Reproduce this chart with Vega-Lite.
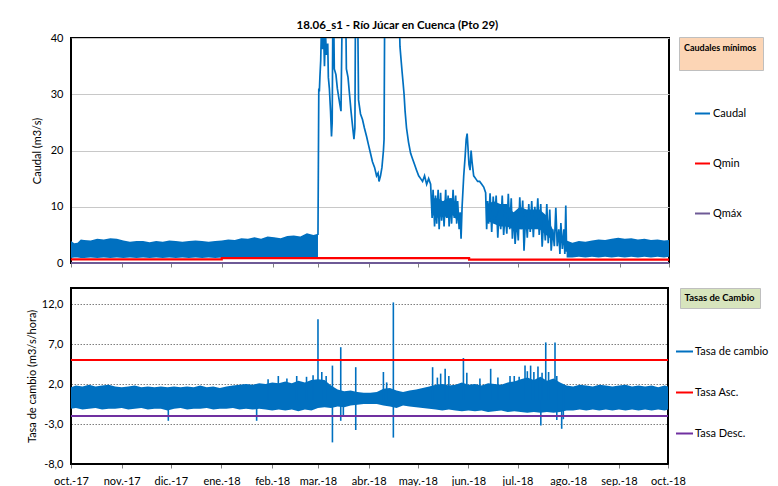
{
  "$schema": "https://vega.github.io/schema/vega-lite/v6.json",
  "background": "white",
  "padding": {"left": 25, "top": 18, "right": 0, "bottom": 0},
  "spacing": 17,
  "config": {
    "font": "Lato",
    "view": {"stroke": "#000000", "strokeWidth": 2},
    "axis": {
      "labelFont": "Lato", "titleFont": "Lato",
      "labelFontSize": 11, "titleFontSize": 11, "titleFontWeight": "normal",
      "labelColor": "#000000", "titleColor": "#000000",
      "domainColor": "#000000", "tickColor": "#808080",
      "labelFlush": false, "labelOverlap": false
    },
    "legend": {"labelFont": "Lato", "labelColor": "#000000"},
    "title": {"font": "Lato", "color": "#000000"}
  },
  "resolve": {
    "scale": {"color": "independent", "strokeDash": "independent", "x": "independent", "y": "independent"},
    "legend": {"color": "independent", "strokeDash": "independent"}
  },
  "datasets": {
    "caudal_banda": [
      {"tramo": "a", "fecha": "2017-10-01T00:00", "lo": 0.9, "hi": 3.9},
      {"tramo": "a", "fecha": "2017-10-03T00:00", "lo": 1.0, "hi": 3.5},
      {"tramo": "a", "fecha": "2017-10-05T00:00", "lo": 1.0, "hi": 3.6},
      {"tramo": "a", "fecha": "2017-10-07T00:00", "lo": 0.9, "hi": 4.2},
      {"tramo": "a", "fecha": "2017-10-09T00:00", "lo": 0.9, "hi": 4.1},
      {"tramo": "a", "fecha": "2017-10-13T00:00", "lo": 1.0, "hi": 4.0},
      {"tramo": "a", "fecha": "2017-10-17T00:00", "lo": 0.9, "hi": 4.3},
      {"tramo": "a", "fecha": "2017-10-21T00:00", "lo": 1.0, "hi": 4.2},
      {"tramo": "a", "fecha": "2017-10-25T00:00", "lo": 0.9, "hi": 4.4},
      {"tramo": "a", "fecha": "2017-10-29T00:00", "lo": 1.0, "hi": 4.3},
      {"tramo": "a", "fecha": "2017-11-02T00:00", "lo": 0.9, "hi": 4.0},
      {"tramo": "a", "fecha": "2017-11-06T00:00", "lo": 1.0, "hi": 3.8},
      {"tramo": "a", "fecha": "2017-11-10T00:00", "lo": 0.9, "hi": 3.9},
      {"tramo": "a", "fecha": "2017-11-14T00:00", "lo": 1.0, "hi": 3.9},
      {"tramo": "a", "fecha": "2017-11-18T00:00", "lo": 0.9, "hi": 3.7},
      {"tramo": "a", "fecha": "2017-11-22T00:00", "lo": 1.0, "hi": 3.9},
      {"tramo": "a", "fecha": "2017-11-26T00:00", "lo": 0.9, "hi": 3.8},
      {"tramo": "a", "fecha": "2017-11-30T00:00", "lo": 1.0, "hi": 4.0},
      {"tramo": "a", "fecha": "2017-12-04T00:00", "lo": 0.9, "hi": 3.9},
      {"tramo": "a", "fecha": "2017-12-08T00:00", "lo": 1.0, "hi": 3.8},
      {"tramo": "a", "fecha": "2017-12-12T00:00", "lo": 0.9, "hi": 3.9},
      {"tramo": "a", "fecha": "2017-12-16T00:00", "lo": 1.0, "hi": 4.0},
      {"tramo": "a", "fecha": "2017-12-20T00:00", "lo": 0.9, "hi": 3.9},
      {"tramo": "a", "fecha": "2017-12-24T00:00", "lo": 1.0, "hi": 3.8},
      {"tramo": "a", "fecha": "2017-12-28T00:00", "lo": 0.9, "hi": 3.9},
      {"tramo": "a", "fecha": "2018-01-01T00:00", "lo": 1.0, "hi": 4.0},
      {"tramo": "a", "fecha": "2018-01-05T00:00", "lo": 0.9, "hi": 4.2},
      {"tramo": "a", "fecha": "2018-01-09T00:00", "lo": 1.0, "hi": 4.1},
      {"tramo": "a", "fecha": "2018-01-13T00:00", "lo": 0.9, "hi": 4.4},
      {"tramo": "a", "fecha": "2018-01-17T00:00", "lo": 1.0, "hi": 4.3},
      {"tramo": "a", "fecha": "2018-01-21T00:00", "lo": 0.9, "hi": 4.6},
      {"tramo": "a", "fecha": "2018-01-25T00:00", "lo": 1.0, "hi": 4.3},
      {"tramo": "a", "fecha": "2018-01-29T00:00", "lo": 0.9, "hi": 4.7},
      {"tramo": "a", "fecha": "2018-02-02T00:00", "lo": 1.0, "hi": 4.6},
      {"tramo": "a", "fecha": "2018-02-06T00:00", "lo": 0.9, "hi": 4.4},
      {"tramo": "a", "fecha": "2018-02-10T00:00", "lo": 1.0, "hi": 4.8},
      {"tramo": "a", "fecha": "2018-02-14T00:00", "lo": 0.9, "hi": 4.9},
      {"tramo": "a", "fecha": "2018-02-18T00:00", "lo": 1.0, "hi": 4.7},
      {"tramo": "a", "fecha": "2018-02-22T00:00", "lo": 0.9, "hi": 5.3},
      {"tramo": "a", "fecha": "2018-02-26T00:00", "lo": 1.0, "hi": 5.0},
      {"tramo": "a", "fecha": "2018-02-28T18:00", "lo": 1.0, "hi": 5.2},
      {"tramo": "b", "fecha": "2018-05-10T00:00", "lo": 8.5, "hi": 11.5},
      {"tramo": "b", "fecha": "2018-05-13T00:00", "lo": 8.0, "hi": 11.5},
      {"tramo": "b", "fecha": "2018-05-16T00:00", "lo": 8.5, "hi": 11.0},
      {"tramo": "b", "fecha": "2018-05-19T00:00", "lo": 8.0, "hi": 11.5},
      {"tramo": "b", "fecha": "2018-05-22T00:00", "lo": 8.5, "hi": 11.5},
      {"tramo": "b", "fecha": "2018-05-25T00:00", "lo": 7.5, "hi": 10.0},
      {"tramo": "c", "fecha": "2018-06-12T00:00", "lo": 7.5, "hi": 10.5},
      {"tramo": "c", "fecha": "2018-06-16T00:00", "lo": 7.0, "hi": 11.0},
      {"tramo": "c", "fecha": "2018-06-20T00:00", "lo": 6.5, "hi": 10.5},
      {"tramo": "c", "fecha": "2018-06-24T00:00", "lo": 6.5, "hi": 10.5},
      {"tramo": "c", "fecha": "2018-06-28T00:00", "lo": 6.0, "hi": 9.0},
      {"tramo": "c", "fecha": "2018-07-02T00:00", "lo": 6.0, "hi": 10.0},
      {"tramo": "c", "fecha": "2018-07-06T00:00", "lo": 6.0, "hi": 9.5},
      {"tramo": "c", "fecha": "2018-07-10T00:00", "lo": 6.0, "hi": 9.5},
      {"tramo": "c", "fecha": "2018-07-14T00:00", "lo": 6.0, "hi": 9.5},
      {"tramo": "c", "fecha": "2018-07-18T00:00", "lo": 5.0, "hi": 8.5},
      {"tramo": "c", "fecha": "2018-07-22T00:00", "lo": 4.0, "hi": 6.0},
      {"tramo": "d", "fecha": "2018-07-30T12:00", "lo": 1.0, "hi": 4.0},
      {"tramo": "d", "fecha": "2018-08-03T00:00", "lo": 1.0, "hi": 3.6},
      {"tramo": "d", "fecha": "2018-08-07T00:00", "lo": 1.1, "hi": 3.9},
      {"tramo": "d", "fecha": "2018-08-11T00:00", "lo": 1.0, "hi": 3.8},
      {"tramo": "d", "fecha": "2018-08-15T00:00", "lo": 1.1, "hi": 4.0},
      {"tramo": "d", "fecha": "2018-08-19T00:00", "lo": 1.0, "hi": 4.2},
      {"tramo": "d", "fecha": "2018-08-23T00:00", "lo": 1.1, "hi": 4.1},
      {"tramo": "d", "fecha": "2018-08-27T00:00", "lo": 1.0, "hi": 4.3},
      {"tramo": "d", "fecha": "2018-08-31T00:00", "lo": 1.1, "hi": 4.5},
      {"tramo": "d", "fecha": "2018-09-04T00:00", "lo": 1.0, "hi": 4.3},
      {"tramo": "d", "fecha": "2018-09-08T00:00", "lo": 1.1, "hi": 4.4},
      {"tramo": "d", "fecha": "2018-09-12T00:00", "lo": 1.0, "hi": 4.2},
      {"tramo": "d", "fecha": "2018-09-16T00:00", "lo": 1.1, "hi": 4.3},
      {"tramo": "d", "fecha": "2018-09-20T00:00", "lo": 1.0, "hi": 4.1},
      {"tramo": "d", "fecha": "2018-09-24T00:00", "lo": 1.1, "hi": 4.2},
      {"tramo": "d", "fecha": "2018-09-28T00:00", "lo": 1.0, "hi": 4.0},
      {"tramo": "d", "fecha": "2018-10-01T00:00", "lo": 1.1, "hi": 4.1}
    ],
    "caudal": [
      {"serie": "Caudal", "fecha": "2018-02-28T18:00", "valor": 5.0},
      {"serie": "Caudal", "fecha": "2018-03-01T06:00", "valor": 31},
      {"serie": "Caudal", "fecha": "2018-03-01T14:00", "valor": 30.5},
      {"serie": "Caudal", "fecha": "2018-03-01T22:00", "valor": 33},
      {"serie": "Caudal", "fecha": "2018-03-02T10:00", "valor": 36},
      {"serie": "Caudal", "fecha": "2018-03-02T19:00", "valor": 41},
      {"serie": "Caudal", "fecha": "2018-03-03T10:00", "valor": 38},
      {"serie": "Caudal", "fecha": "2018-03-04T02:00", "valor": 42},
      {"serie": "Caudal", "fecha": "2018-03-04T17:00", "valor": 35},
      {"serie": "Caudal", "fecha": "2018-03-05T07:00", "valor": 41},
      {"serie": "Caudal", "fecha": "2018-03-05T22:00", "valor": 37},
      {"serie": "Caudal", "fecha": "2018-03-06T17:00", "valor": 39},
      {"serie": "Caudal", "fecha": "2018-03-07T02:00", "valor": 33},
      {"serie": "Caudal", "fecha": "2018-03-07T17:00", "valor": 31},
      {"serie": "Caudal", "fecha": "2018-03-08T10:00", "valor": 27},
      {"serie": "Caudal", "fecha": "2018-03-09T00:00", "valor": 22.5},
      {"serie": "Caudal", "fecha": "2018-03-09T10:00", "valor": 25},
      {"serie": "Caudal", "fecha": "2018-03-09T19:00", "valor": 42},
      {"serie": "Caudal", "fecha": "2018-03-10T10:00", "valor": 42},
      {"serie": "Caudal", "fecha": "2018-03-10T17:00", "valor": 34.5},
      {"serie": "Caudal", "fecha": "2018-03-11T17:00", "valor": 33.5},
      {"serie": "Caudal", "fecha": "2018-03-12T14:00", "valor": 31},
      {"serie": "Caudal", "fecha": "2018-03-13T22:00", "valor": 28.5},
      {"serie": "Caudal", "fecha": "2018-03-14T19:00", "valor": 27},
      {"serie": "Caudal", "fecha": "2018-03-15T10:00", "valor": 42},
      {"serie": "Caudal", "fecha": "2018-03-17T19:00", "valor": 42},
      {"serie": "Caudal", "fecha": "2018-03-18T02:00", "valor": 34.5},
      {"serie": "Caudal", "fecha": "2018-03-19T02:00", "valor": 33},
      {"serie": "Caudal", "fecha": "2018-03-20T00:00", "valor": 30},
      {"serie": "Caudal", "fecha": "2018-03-20T22:00", "valor": 27},
      {"serie": "Caudal", "fecha": "2018-03-21T19:00", "valor": 24.5},
      {"serie": "Caudal", "fecha": "2018-03-22T17:00", "valor": 22},
      {"serie": "Caudal", "fecha": "2018-03-23T07:00", "valor": 24},
      {"serie": "Caudal", "fecha": "2018-03-23T14:00", "valor": 42},
      {"serie": "Caudal", "fecha": "2018-03-25T02:00", "valor": 42},
      {"serie": "Caudal", "fecha": "2018-03-25T12:00", "valor": 29},
      {"serie": "Caudal", "fecha": "2018-03-26T17:00", "valor": 26.5},
      {"serie": "Caudal", "fecha": "2018-03-27T22:00", "valor": 25.5},
      {"serie": "Caudal", "fecha": "2018-03-29T02:00", "valor": 24},
      {"serie": "Caudal", "fecha": "2018-03-30T10:00", "valor": 22.5},
      {"serie": "Caudal", "fecha": "2018-03-31T14:00", "valor": 21},
      {"serie": "Caudal", "fecha": "2018-04-01T19:00", "valor": 19.5},
      {"serie": "Caudal", "fecha": "2018-04-03T00:00", "valor": 18},
      {"serie": "Caudal", "fecha": "2018-04-04T07:00", "valor": 17},
      {"serie": "Caudal", "fecha": "2018-04-05T12:00", "valor": 15.5},
      {"serie": "Caudal", "fecha": "2018-04-06T10:00", "valor": 16},
      {"serie": "Caudal", "fecha": "2018-04-07T00:00", "valor": 14.5},
      {"serie": "Caudal", "fecha": "2018-04-07T22:00", "valor": 15.5},
      {"serie": "Caudal", "fecha": "2018-04-08T19:00", "valor": 17},
      {"serie": "Caudal", "fecha": "2018-04-09T17:00", "valor": 20},
      {"serie": "Caudal", "fecha": "2018-04-10T02:00", "valor": 22},
      {"serie": "Caudal", "fecha": "2018-04-10T10:00", "valor": 42},
      {"serie": "Caudal", "fecha": "2018-04-19T12:00", "valor": 42},
      {"serie": "Caudal", "fecha": "2018-04-19T19:00", "valor": 38.5},
      {"serie": "Caudal", "fecha": "2018-04-20T12:00", "valor": 36},
      {"serie": "Caudal", "fecha": "2018-04-21T02:00", "valor": 34},
      {"serie": "Caudal", "fecha": "2018-04-21T17:00", "valor": 32},
      {"serie": "Caudal", "fecha": "2018-04-22T07:00", "valor": 30},
      {"serie": "Caudal", "fecha": "2018-04-22T22:00", "valor": 27},
      {"serie": "Caudal", "fecha": "2018-04-23T19:00", "valor": 24},
      {"serie": "Caudal", "fecha": "2018-04-25T00:00", "valor": 21.5},
      {"serie": "Caudal", "fecha": "2018-04-26T07:00", "valor": 19.5},
      {"serie": "Caudal", "fecha": "2018-04-27T12:00", "valor": 18.5},
      {"serie": "Caudal", "fecha": "2018-04-28T17:00", "valor": 17.5},
      {"serie": "Caudal", "fecha": "2018-04-29T22:00", "valor": 16.5},
      {"serie": "Caudal", "fecha": "2018-05-01T05:00", "valor": 15.5},
      {"serie": "Caudal", "fecha": "2018-05-02T10:00", "valor": 15},
      {"serie": "Caudal", "fecha": "2018-05-03T14:00", "valor": 14.5},
      {"serie": "Caudal", "fecha": "2018-05-04T19:00", "valor": 15.5},
      {"serie": "Caudal", "fecha": "2018-05-06T02:00", "valor": 14},
      {"serie": "Caudal", "fecha": "2018-05-07T07:00", "valor": 15},
      {"serie": "Caudal", "fecha": "2018-05-08T12:00", "valor": 14},
      {"serie": "Caudal", "fecha": "2018-05-09T10:00", "valor": 8},
      {"serie": "Caudal", "fecha": "2018-05-10T00:00", "valor": 13},
      {"serie": "Caudal", "fecha": "2018-05-10T22:00", "valor": 6.5},
      {"serie": "Caudal", "fecha": "2018-05-11T12:00", "valor": 12},
      {"serie": "Caudal", "fecha": "2018-05-12T05:00", "valor": 7},
      {"serie": "Caudal", "fecha": "2018-05-13T02:00", "valor": 13},
      {"serie": "Caudal", "fecha": "2018-05-13T17:00", "valor": 6},
      {"serie": "Caudal", "fecha": "2018-05-14T14:00", "valor": 12.5},
      {"serie": "Caudal", "fecha": "2018-05-15T05:00", "valor": 7.5},
      {"serie": "Caudal", "fecha": "2018-05-16T02:00", "valor": 11},
      {"serie": "Caudal", "fecha": "2018-05-16T17:00", "valor": 6.5},
      {"serie": "Caudal", "fecha": "2018-05-17T17:00", "valor": 13},
      {"serie": "Caudal", "fecha": "2018-05-18T07:00", "valor": 8},
      {"serie": "Caudal", "fecha": "2018-05-19T05:00", "valor": 12},
      {"serie": "Caudal", "fecha": "2018-05-19T19:00", "valor": 6.5},
      {"serie": "Caudal", "fecha": "2018-05-20T17:00", "valor": 11.5},
      {"serie": "Caudal", "fecha": "2018-05-21T07:00", "valor": 7},
      {"serie": "Caudal", "fecha": "2018-05-22T05:00", "valor": 13},
      {"serie": "Caudal", "fecha": "2018-05-22T22:00", "valor": 8},
      {"serie": "Caudal", "fecha": "2018-05-23T19:00", "valor": 12},
      {"serie": "Caudal", "fecha": "2018-05-24T10:00", "valor": 7},
      {"serie": "Caudal", "fecha": "2018-05-25T00:00", "valor": 11},
      {"serie": "Caudal", "fecha": "2018-05-25T22:00", "valor": 6},
      {"serie": "Caudal", "fecha": "2018-05-26T12:00", "valor": 9},
      {"serie": "Caudal", "fecha": "2018-05-27T02:00", "valor": 4.3},
      {"serie": "Caudal", "fecha": "2018-05-27T17:00", "valor": 10},
      {"serie": "Caudal", "fecha": "2018-05-28T17:00", "valor": 15.5},
      {"serie": "Caudal", "fecha": "2018-05-29T14:00", "valor": 19},
      {"serie": "Caudal", "fecha": "2018-05-30T05:00", "valor": 22},
      {"serie": "Caudal", "fecha": "2018-05-30T19:00", "valor": 23},
      {"serie": "Caudal", "fecha": "2018-05-31T10:00", "valor": 20},
      {"serie": "Caudal", "fecha": "2018-05-31T22:00", "valor": 17.5},
      {"serie": "Caudal", "fecha": "2018-06-01T14:00", "valor": 16.5},
      {"serie": "Caudal", "fecha": "2018-06-02T05:00", "valor": 20},
      {"serie": "Caudal", "fecha": "2018-06-02T19:00", "valor": 18},
      {"serie": "Caudal", "fecha": "2018-06-03T19:00", "valor": 15.5},
      {"serie": "Caudal", "fecha": "2018-06-05T00:00", "valor": 15},
      {"serie": "Caudal", "fecha": "2018-06-06T05:00", "valor": 14.5},
      {"serie": "Caudal", "fecha": "2018-06-07T10:00", "valor": 14.5},
      {"serie": "Caudal", "fecha": "2018-06-08T17:00", "valor": 14},
      {"serie": "Caudal", "fecha": "2018-06-09T22:00", "valor": 13.5},
      {"serie": "Caudal", "fecha": "2018-06-11T02:00", "valor": 12.5},
      {"serie": "Caudal", "fecha": "2018-06-11T17:00", "valor": 6},
      {"serie": "Caudal", "fecha": "2018-06-12T07:00", "valor": 11},
      {"serie": "Caudal", "fecha": "2018-06-12T22:00", "valor": 7},
      {"serie": "Caudal", "fecha": "2018-06-13T19:00", "valor": 12.4},
      {"serie": "Caudal", "fecha": "2018-06-14T19:00", "valor": 5.5},
      {"serie": "Caudal", "fecha": "2018-06-15T17:00", "valor": 11.8},
      {"serie": "Caudal", "fecha": "2018-06-16T14:00", "valor": 7},
      {"serie": "Caudal", "fecha": "2018-06-17T12:00", "valor": 12},
      {"serie": "Caudal", "fecha": "2018-06-18T12:00", "valor": 4.5},
      {"serie": "Caudal", "fecha": "2018-06-19T10:00", "valor": 10.5},
      {"serie": "Caudal", "fecha": "2018-06-20T07:00", "valor": 6},
      {"serie": "Caudal", "fecha": "2018-06-21T05:00", "valor": 12},
      {"serie": "Caudal", "fecha": "2018-06-22T02:00", "valor": 5},
      {"serie": "Caudal", "fecha": "2018-06-23T00:00", "valor": 9},
      {"serie": "Caudal", "fecha": "2018-06-24T00:00", "valor": 5.2},
      {"serie": "Caudal", "fecha": "2018-06-24T22:00", "valor": 12.3},
      {"serie": "Caudal", "fecha": "2018-06-25T19:00", "valor": 6},
      {"serie": "Caudal", "fecha": "2018-06-26T17:00", "valor": 11.5},
      {"serie": "Caudal", "fecha": "2018-06-27T10:00", "valor": 4.3},
      {"serie": "Caudal", "fecha": "2018-06-28T05:00", "valor": 9},
      {"serie": "Caudal", "fecha": "2018-06-29T02:00", "valor": 3.4},
      {"serie": "Caudal", "fecha": "2018-06-30T02:00", "valor": 8},
      {"serie": "Caudal", "fecha": "2018-07-01T00:00", "valor": 4},
      {"serie": "Caudal", "fecha": "2018-07-01T22:00", "valor": 11.7},
      {"serie": "Caudal", "fecha": "2018-07-02T19:00", "valor": 6},
      {"serie": "Caudal", "fecha": "2018-07-03T17:00", "valor": 11.1},
      {"serie": "Caudal", "fecha": "2018-07-04T12:00", "valor": 2.2},
      {"serie": "Caudal", "fecha": "2018-07-05T14:00", "valor": 9},
      {"serie": "Caudal", "fecha": "2018-07-06T12:00", "valor": 4.5},
      {"serie": "Caudal", "fecha": "2018-07-07T10:00", "valor": 10.5},
      {"serie": "Caudal", "fecha": "2018-07-08T07:00", "valor": 5.5},
      {"serie": "Caudal", "fecha": "2018-07-09T05:00", "valor": 11},
      {"serie": "Caudal", "fecha": "2018-07-10T05:00", "valor": 4.6},
      {"serie": "Caudal", "fecha": "2018-07-11T02:00", "valor": 10},
      {"serie": "Caudal", "fecha": "2018-07-12T00:00", "valor": 6.5},
      {"serie": "Caudal", "fecha": "2018-07-12T22:00", "valor": 11.5},
      {"serie": "Caudal", "fecha": "2018-07-13T19:00", "valor": 5},
      {"serie": "Caudal", "fecha": "2018-07-14T17:00", "valor": 10.5},
      {"serie": "Caudal", "fecha": "2018-07-15T14:00", "valor": 2.9},
      {"serie": "Caudal", "fecha": "2018-07-16T14:00", "valor": 8},
      {"serie": "Caudal", "fecha": "2018-07-17T12:00", "valor": 4},
      {"serie": "Caudal", "fecha": "2018-07-18T10:00", "valor": 10.5},
      {"serie": "Caudal", "fecha": "2018-07-19T07:00", "valor": 3.5},
      {"serie": "Caudal", "fecha": "2018-07-20T05:00", "valor": 9.5},
      {"serie": "Caudal", "fecha": "2018-07-21T02:00", "valor": 2.2},
      {"serie": "Caudal", "fecha": "2018-07-22T02:00", "valor": 6},
      {"serie": "Caudal", "fecha": "2018-07-23T00:00", "valor": 3},
      {"serie": "Caudal", "fecha": "2018-07-23T22:00", "valor": 9.8},
      {"serie": "Caudal", "fecha": "2018-07-24T19:00", "valor": 3},
      {"serie": "Caudal", "fecha": "2018-07-25T17:00", "valor": 6},
      {"serie": "Caudal", "fecha": "2018-07-26T10:00", "valor": 1.6},
      {"serie": "Caudal", "fecha": "2018-07-27T00:00", "valor": 7.1},
      {"serie": "Caudal", "fecha": "2018-07-27T22:00", "valor": 2.5},
      {"serie": "Caudal", "fecha": "2018-07-28T19:00", "valor": 6},
      {"serie": "Caudal", "fecha": "2018-07-29T10:00", "valor": 1.6},
      {"serie": "Caudal", "fecha": "2018-07-30T00:00", "valor": 10.2},
      {"serie": "Caudal", "fecha": "2018-07-30T12:00", "valor": 2}
    ],
    "umbral_q": [
      {"serie": "Qmin", "fecha": "2017-10-01T00:00", "valor": 0.65},
      {"serie": "Qmin", "fecha": "2018-01-01T00:00", "valor": 0.85},
      {"serie": "Qmin", "fecha": "2018-06-01T00:00", "valor": 0.6},
      {"serie": "Qmin", "fecha": "2018-10-01T00:00", "valor": 0.6},
      {"serie": "Qmáx", "fecha": "2017-10-01T00:00", "valor": 0},
      {"serie": "Qmáx", "fecha": "2018-10-01T00:00", "valor": 0}
    ],
    "tasa_banda": [
      {"fecha": "2017-10-01T00:00", "lo": -1.1, "hi": 1.6},
      {"fecha": "2017-10-04T00:00", "lo": -1.0, "hi": 1.8},
      {"fecha": "2017-10-08T00:00", "lo": -1.2, "hi": 1.7},
      {"fecha": "2017-10-12T00:00", "lo": -1.1, "hi": 1.9},
      {"fecha": "2017-10-16T00:00", "lo": -1.0, "hi": 1.7},
      {"fecha": "2017-10-20T00:00", "lo": -1.2, "hi": 1.8},
      {"fecha": "2017-10-24T00:00", "lo": -1.1, "hi": 1.9},
      {"fecha": "2017-10-28T00:00", "lo": -1.1, "hi": 1.7},
      {"fecha": "2017-11-01T00:00", "lo": -1.0, "hi": 1.6},
      {"fecha": "2017-11-05T00:00", "lo": -1.2, "hi": 1.7},
      {"fecha": "2017-11-09T00:00", "lo": -1.1, "hi": 1.8},
      {"fecha": "2017-11-13T00:00", "lo": -1.0, "hi": 1.6},
      {"fecha": "2017-11-17T00:00", "lo": -1.2, "hi": 1.7},
      {"fecha": "2017-11-21T00:00", "lo": -1.1, "hi": 1.6},
      {"fecha": "2017-11-25T00:00", "lo": -1.1, "hi": 1.7},
      {"fecha": "2017-11-29T00:00", "lo": -1.3, "hi": 1.6},
      {"fecha": "2017-12-03T00:00", "lo": -1.1, "hi": 1.7},
      {"fecha": "2017-12-07T00:00", "lo": -1.0, "hi": 1.6},
      {"fecha": "2017-12-11T00:00", "lo": -1.2, "hi": 1.7},
      {"fecha": "2017-12-15T00:00", "lo": -1.1, "hi": 1.6},
      {"fecha": "2017-12-19T00:00", "lo": -1.1, "hi": 1.8},
      {"fecha": "2017-12-23T00:00", "lo": -1.0, "hi": 1.6},
      {"fecha": "2017-12-27T00:00", "lo": -1.2, "hi": 1.7},
      {"fecha": "2017-12-31T00:00", "lo": -1.1, "hi": 1.5},
      {"fecha": "2018-01-04T00:00", "lo": -1.1, "hi": 1.7},
      {"fecha": "2018-01-08T00:00", "lo": -1.0, "hi": 1.8},
      {"fecha": "2018-01-12T00:00", "lo": -1.2, "hi": 1.9},
      {"fecha": "2018-01-16T00:00", "lo": -1.1, "hi": 2.0},
      {"fecha": "2018-01-20T00:00", "lo": -1.2, "hi": 1.9},
      {"fecha": "2018-01-24T00:00", "lo": -1.1, "hi": 2.1},
      {"fecha": "2018-01-28T00:00", "lo": -1.2, "hi": 2.0},
      {"fecha": "2018-02-01T00:00", "lo": -1.3, "hi": 2.2},
      {"fecha": "2018-02-05T00:00", "lo": -1.2, "hi": 2.1},
      {"fecha": "2018-02-09T00:00", "lo": -1.3, "hi": 2.3},
      {"fecha": "2018-02-13T00:00", "lo": -1.2, "hi": 2.1},
      {"fecha": "2018-02-17T00:00", "lo": -1.4, "hi": 2.4},
      {"fecha": "2018-02-21T00:00", "lo": -1.2, "hi": 2.2},
      {"fecha": "2018-02-25T00:00", "lo": -1.3, "hi": 2.5},
      {"fecha": "2018-03-01T00:00", "lo": -1.0, "hi": 2.6},
      {"fecha": "2018-03-05T00:00", "lo": -0.9, "hi": 2.5},
      {"fecha": "2018-03-09T00:00", "lo": -1.0, "hi": 1.8},
      {"fecha": "2018-03-13T00:00", "lo": -0.8, "hi": 1.3},
      {"fecha": "2018-03-17T00:00", "lo": -0.9, "hi": 1.1},
      {"fecha": "2018-03-21T00:00", "lo": -0.7, "hi": 1.2},
      {"fecha": "2018-03-25T00:00", "lo": -0.6, "hi": 1.0},
      {"fecha": "2018-03-29T00:00", "lo": -0.5, "hi": 0.9},
      {"fecha": "2018-04-02T00:00", "lo": -0.5, "hi": 0.9},
      {"fecha": "2018-04-06T00:00", "lo": -0.5, "hi": 1.0},
      {"fecha": "2018-04-10T00:00", "lo": -0.7, "hi": 1.4},
      {"fecha": "2018-04-14T00:00", "lo": -0.8, "hi": 1.5},
      {"fecha": "2018-04-18T00:00", "lo": -1.0, "hi": 1.2},
      {"fecha": "2018-04-22T00:00", "lo": -0.7, "hi": 1.0},
      {"fecha": "2018-04-26T00:00", "lo": -0.8, "hi": 1.2},
      {"fecha": "2018-04-30T00:00", "lo": -0.9, "hi": 1.3},
      {"fecha": "2018-05-04T00:00", "lo": -1.0, "hi": 1.5},
      {"fecha": "2018-05-08T00:00", "lo": -1.1, "hi": 1.7},
      {"fecha": "2018-05-12T00:00", "lo": -1.2, "hi": 1.9},
      {"fecha": "2018-05-16T00:00", "lo": -1.3, "hi": 2.0},
      {"fecha": "2018-05-20T00:00", "lo": -1.2, "hi": 1.8},
      {"fecha": "2018-05-24T00:00", "lo": -1.3, "hi": 1.9},
      {"fecha": "2018-05-28T00:00", "lo": -1.4, "hi": 2.2},
      {"fecha": "2018-06-01T00:00", "lo": -1.3, "hi": 1.9},
      {"fecha": "2018-06-05T00:00", "lo": -1.4, "hi": 2.0},
      {"fecha": "2018-06-09T00:00", "lo": -1.3, "hi": 1.8},
      {"fecha": "2018-06-13T00:00", "lo": -1.5, "hi": 2.1},
      {"fecha": "2018-06-17T00:00", "lo": -1.4, "hi": 2.0},
      {"fecha": "2018-06-21T00:00", "lo": -1.3, "hi": 1.9},
      {"fecha": "2018-06-25T00:00", "lo": -1.5, "hi": 2.2},
      {"fecha": "2018-06-29T00:00", "lo": -1.4, "hi": 2.3},
      {"fecha": "2018-07-03T00:00", "lo": -1.5, "hi": 2.6},
      {"fecha": "2018-07-07T00:00", "lo": -1.6, "hi": 2.8},
      {"fecha": "2018-07-11T00:00", "lo": -1.5, "hi": 2.5},
      {"fecha": "2018-07-15T00:00", "lo": -1.6, "hi": 2.9},
      {"fecha": "2018-07-19T00:00", "lo": -1.5, "hi": 2.4},
      {"fecha": "2018-07-23T00:00", "lo": -1.6, "hi": 2.7},
      {"fecha": "2018-07-27T00:00", "lo": -1.5, "hi": 2.2},
      {"fecha": "2018-07-31T00:00", "lo": -1.3, "hi": 1.8},
      {"fecha": "2018-08-04T00:00", "lo": -1.3, "hi": 1.7},
      {"fecha": "2018-08-08T00:00", "lo": -1.2, "hi": 1.9},
      {"fecha": "2018-08-12T00:00", "lo": -1.3, "hi": 1.8},
      {"fecha": "2018-08-16T00:00", "lo": -1.2, "hi": 1.7},
      {"fecha": "2018-08-20T00:00", "lo": -1.3, "hi": 1.9},
      {"fecha": "2018-08-24T00:00", "lo": -1.2, "hi": 1.8},
      {"fecha": "2018-08-28T00:00", "lo": -1.3, "hi": 1.7},
      {"fecha": "2018-09-01T00:00", "lo": -1.2, "hi": 1.8},
      {"fecha": "2018-09-05T00:00", "lo": -1.3, "hi": 1.9},
      {"fecha": "2018-09-09T00:00", "lo": -1.2, "hi": 1.7},
      {"fecha": "2018-09-13T00:00", "lo": -1.3, "hi": 1.8},
      {"fecha": "2018-09-17T00:00", "lo": -1.2, "hi": 1.7},
      {"fecha": "2018-09-21T00:00", "lo": -1.3, "hi": 1.8},
      {"fecha": "2018-09-25T00:00", "lo": -1.2, "hi": 1.6},
      {"fecha": "2018-09-29T00:00", "lo": -1.3, "hi": 1.8},
      {"fecha": "2018-10-01T00:00", "lo": -1.2, "hi": 1.7}
    ],
    "tasa_picos": [
      {"fecha": "2017-11-29T12:00", "lo": -2.6, "hi": 0},
      {"fecha": "2018-01-22T12:00", "lo": -2.6, "hi": 0},
      {"fecha": "2018-01-29T12:00", "lo": 0, "hi": 2.6},
      {"fecha": "2018-02-04T18:00", "lo": 0, "hi": 3.0},
      {"fecha": "2018-02-10T00:00", "lo": 0, "hi": 2.7},
      {"fecha": "2018-02-16T00:00", "lo": 0, "hi": 3.0},
      {"fecha": "2018-02-22T00:00", "lo": 0, "hi": 2.9},
      {"fecha": "2018-02-26T00:00", "lo": 0, "hi": 3.1},
      {"fecha": "2018-03-01T00:00", "lo": -0.5, "hi": 10.1},
      {"fecha": "2018-03-03T08:00", "lo": 0, "hi": 3.5},
      {"fecha": "2018-03-06T00:00", "lo": 0, "hi": 3.0},
      {"fecha": "2018-03-09T20:00", "lo": -5.3, "hi": 4.3},
      {"fecha": "2018-03-14T22:00", "lo": -2.6, "hi": 6.6},
      {"fecha": "2018-03-16T12:00", "lo": -2.0, "hi": 0},
      {"fecha": "2018-03-24T02:00", "lo": -3.75, "hi": 4.1},
      {"fecha": "2018-04-10T00:00", "lo": 0, "hi": 3.5},
      {"fecha": "2018-04-12T00:00", "lo": 0, "hi": 2.2},
      {"fecha": "2018-04-16T02:00", "lo": -4.7, "hi": 12.2},
      {"fecha": "2018-05-10T02:00", "lo": 0, "hi": 4.1},
      {"fecha": "2018-05-13T00:00", "lo": 0, "hi": 2.8},
      {"fecha": "2018-05-15T00:00", "lo": 0, "hi": 3.3},
      {"fecha": "2018-05-17T18:00", "lo": 0, "hi": 3.9},
      {"fecha": "2018-05-20T00:00", "lo": 0, "hi": 3.0},
      {"fecha": "2018-05-28T22:00", "lo": 0, "hi": 5.25},
      {"fecha": "2018-05-31T00:00", "lo": 0, "hi": 3.4},
      {"fecha": "2018-06-08T00:00", "lo": 0, "hi": 2.7},
      {"fecha": "2018-06-14T14:00", "lo": 0, "hi": 3.9},
      {"fecha": "2018-06-19T00:00", "lo": 0, "hi": 2.8},
      {"fecha": "2018-06-26T10:00", "lo": 0, "hi": 3.0},
      {"fecha": "2018-06-29T00:00", "lo": 0, "hi": 3.0},
      {"fecha": "2018-07-02T00:00", "lo": 0, "hi": 2.9},
      {"fecha": "2018-07-05T14:00", "lo": 0, "hi": 4.3},
      {"fecha": "2018-07-07T00:00", "lo": 0, "hi": 3.6},
      {"fecha": "2018-07-09T00:00", "lo": 0, "hi": 4.3},
      {"fecha": "2018-07-11T00:00", "lo": 0, "hi": 3.5},
      {"fecha": "2018-07-13T12:00", "lo": 0, "hi": 4.2},
      {"fecha": "2018-07-15T06:00", "lo": -3.2, "hi": 0},
      {"fecha": "2018-07-16T00:00", "lo": 0, "hi": 3.4},
      {"fecha": "2018-07-18T06:00", "lo": 0, "hi": 7.2},
      {"fecha": "2018-07-20T00:00", "lo": 0, "hi": 3.5},
      {"fecha": "2018-07-23T22:00", "lo": 0, "hi": 7.2},
      {"fecha": "2018-07-25T00:00", "lo": -2.5, "hi": 3.0},
      {"fecha": "2018-07-28T00:00", "lo": -3.6, "hi": 0},
      {"fecha": "2018-07-29T00:00", "lo": -2.4, "hi": 1.5}
    ],
    "umbral_t": [
      {"serie": "Tasa Asc.", "fecha": "2017-10-01T00:00", "valor": 5},
      {"serie": "Tasa Asc.", "fecha": "2018-10-01T00:00", "valor": 5},
      {"serie": "Tasa Desc.", "fecha": "2017-10-01T00:00", "valor": -2},
      {"serie": "Tasa Desc.", "fecha": "2018-10-01T00:00", "valor": -2}
    ]
  },
  "vconcat": [
    {
      "width": 598,
      "height": 225,
      "title": {"text": "18.06_s1 - Río Júcar en Cuenca (Pto 29)", "fontSize": 11.5, "fontWeight": "bold", "anchor": "middle", "frame": "bounds", "offset": 1},
      "encoding": {
        "x": {
          "field": "fecha", "type": "temporal",
          "scale": {"domain": [{"year": 2017, "month": 10, "date": 1}, {"year": 2018, "month": 10, "date": 1}], "nice": false},
          "axis": {
            "title": null, "labels": false, "grid": false, "domain": false, "ticks": true, "tickSize": 4,
            "values": [{"year": 2017, "month": 10, "date": 1}, {"year": 2017, "month": 11, "date": 1}, {"year": 2017, "month": 12, "date": 1}, {"year": 2018, "month": 1, "date": 1}, {"year": 2018, "month": 2, "date": 1}, {"year": 2018, "month": 3, "date": 1}, {"year": 2018, "month": 4, "date": 1}, {"year": 2018, "month": 5, "date": 1}, {"year": 2018, "month": 6, "date": 1}, {"year": 2018, "month": 7, "date": 1}, {"year": 2018, "month": 8, "date": 1}, {"year": 2018, "month": 9, "date": 1}, {"year": 2018, "month": 10, "date": 1}]
          }
        }
      },
      "layer": [
        {
          "data": {"name": "caudal_banda"},
          "mark": {"type": "area", "color": "#0070C0", "clip": true},
          "encoding": {
            "detail": {"field": "tramo", "type": "nominal"},
            "y": {
              "field": "lo", "type": "quantitative", "title": "Caudal (m3/s)",
              "scale": {"domain": [0, 40], "nice": false, "zero": false},
              "axis": {"values": [0, 5, 10, 15, 20, 25, 30, 35, 40], "grid": true, "gridColor": "#C8C8C8", "gridWidth": 1.2, "ticks": false, "labelPadding": 8, "titlePadding": 8, "domainColor": "#000000"}
            },
            "y2": {"field": "hi"}
          }
        },
        {
          "data": {"name": "caudal"},
          "mark": {"type": "line", "clip": true, "strokeWidth": 1.7},
          "encoding": {
            "y": {"field": "valor", "type": "quantitative", "title": "Caudal (m3/s)", "scale": {"domain": [0, 40], "nice": false, "zero": false}},
            "color": {
              "field": "serie", "type": "nominal",
              "scale": {"domain": ["Caudal", "Qmin", "Qmáx"], "range": ["#0070C0", "#FF0000", "#6E5A96"]},
              "legend": {"title": null, "orient": "none", "legendX": 623, "legendY": 67, "direction": "vertical", "symbolType": "stroke", "symbolSize": 225, "symbolStrokeWidth": 2, "labelFontSize": 11, "labelOffset": 2, "rowPadding": 36, "padding": 0}
            }
          }
        },
        {
          "data": {"name": "umbral_q"},
          "mark": {"type": "line", "interpolate": "step-after", "strokeWidth": 2.2},
          "encoding": {
            "y": {"field": "valor", "type": "quantitative", "title": "Caudal (m3/s)", "scale": {"domain": [0, 40], "nice": false, "zero": false}},
            "color": {"field": "serie", "type": "nominal"},
            "strokeDash": {
              "datum": "Caudales mínimos",
              "scale": {"range": [[1, 0]]},
              "legend": {"title": null, "orient": "none", "legendX": 608, "legendY": -1, "symbolSize": 0, "symbolOpacity": 0, "symbolStrokeWidth": 0, "labelOffset": -10, "labelFontSize": 9, "labelFontWeight": "bold", "labelExpr": "['Caudales mínimos', '']", "labelLineHeight": 16, "fillColor": "#FCD5B5", "strokeColor": "#BFBFBF", "padding": 6}
            }
          }
        }
      ]
    },
    {
      "width": 597,
      "height": 176,
      "encoding": {
        "x": {
          "field": "fecha", "type": "temporal",
          "scale": {"domain": [{"year": 2017, "month": 10, "date": 1}, {"year": 2018, "month": 10, "date": 1}], "nice": false},
          "axis": {
            "title": null, "grid": false, "tickSize": 4, "labelPadding": 7, "labelFontSize": 11,
            "labelExpr": "['ene.','feb.','mar.','abr.','may.','jun.','jul.','ago.','sep.','oct.','nov.','dic.'][month(datum.value)] + '-' + timeFormat(datum.value, '%y')",
            "values": [{"year": 2017, "month": 10, "date": 1}, {"year": 2017, "month": 11, "date": 1}, {"year": 2017, "month": 12, "date": 1}, {"year": 2018, "month": 1, "date": 1}, {"year": 2018, "month": 2, "date": 1}, {"year": 2018, "month": 3, "date": 1}, {"year": 2018, "month": 4, "date": 1}, {"year": 2018, "month": 5, "date": 1}, {"year": 2018, "month": 6, "date": 1}, {"year": 2018, "month": 7, "date": 1}, {"year": 2018, "month": 8, "date": 1}, {"year": 2018, "month": 9, "date": 1}, {"year": 2018, "month": 10, "date": 1}]
          }
        }
      },
      "layer": [
        {
          "data": {"name": "tasa_banda"},
          "mark": {"type": "area", "color": "#0070C0"},
          "encoding": {
            "y": {
              "field": "lo", "type": "quantitative", "title": "Tasa de cambio (m3/s/hora)",
              "scale": {"domain": [-8, 14], "nice": false, "zero": false},
              "axis": {"values": [-8, -3, 2, 7, 12], "grid": true, "gridColor": "#7F7F7F", "gridDash": [1.5, 1.5], "gridWidth": 1, "ticks": false, "labelPadding": 8, "titlePadding": 4,
                "labelExpr": "(datum.value < 0 ? '-' : '') + replace(format(abs(datum.value), '.1f'), '.', ',')"}
            },
            "y2": {"field": "hi"}
          }
        },
        {
          "data": {"name": "tasa_picos"},
          "mark": {"type": "rule", "color": "#0070C0", "strokeWidth": 1.6},
          "encoding": {
            "y": {"field": "lo", "type": "quantitative", "title": "Tasa de cambio (m3/s/hora)", "scale": {"domain": [-8, 14], "nice": false, "zero": false}},
            "y2": {"field": "hi"}
          }
        },
        {
          "data": {"name": "umbral_t"},
          "mark": {"type": "line", "strokeWidth": 2.2},
          "encoding": {
            "y": {"field": "valor", "type": "quantitative", "title": "Tasa de cambio (m3/s/hora)", "scale": {"domain": [-8, 14], "nice": false, "zero": false}},
            "color": {
              "field": "serie", "type": "nominal",
              "scale": {"domain": ["Tasa de cambio", "Tasa Asc.", "Tasa Desc."], "range": ["#0070C0", "#FF0000", "#7030A0"]},
              "legend": {"title": null, "orient": "none", "legendX": 604, "legendY": 54, "direction": "vertical", "symbolType": "stroke", "symbolSize": 289, "symbolStrokeWidth": 2, "labelFontSize": 11, "labelOffset": 1, "rowPadding": 26, "padding": 0}
            },
            "strokeDash": {
              "datum": "Tasas de Cambio",
              "scale": {"range": [[1, 0]]},
              "legend": {"title": null, "orient": "none", "legendX": 609, "legendY": 0, "symbolSize": 0, "symbolOpacity": 0, "symbolStrokeWidth": 0, "labelOffset": -10, "labelFontSize": 9.5, "labelFontWeight": "bold", "fillColor": "#D7E4BD", "strokeColor": "#BFBFBF", "padding": 5}
            }
          }
        }
      ]
    }
  ]
}
